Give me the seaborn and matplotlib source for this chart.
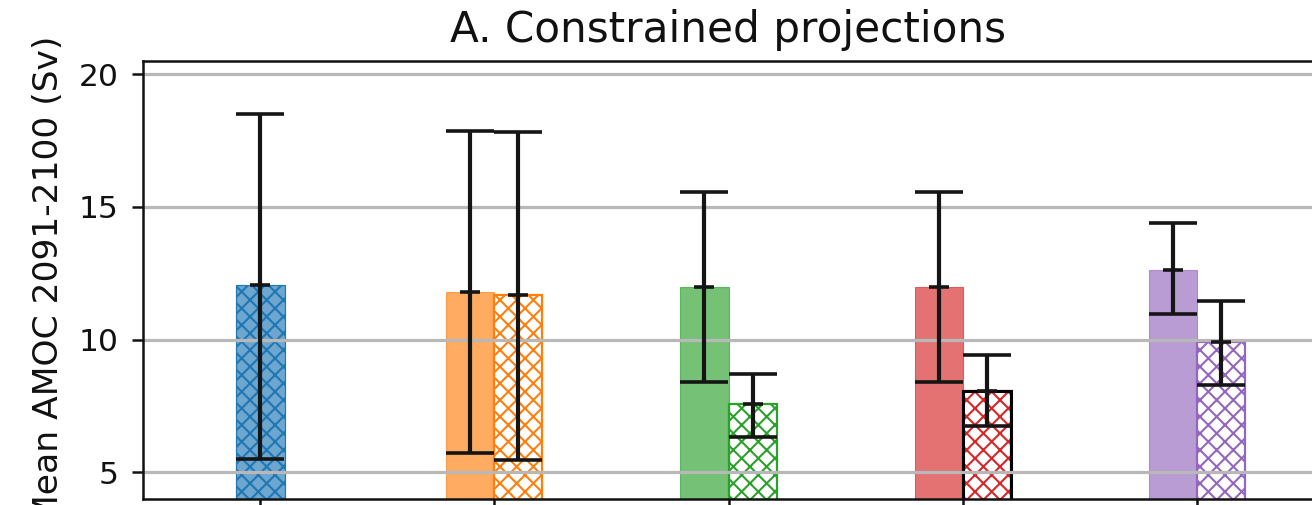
import matplotlib
matplotlib.use("Agg")
import matplotlib.pyplot as plt
import pandas as pd
import seaborn as sns
from matplotlib.colors import to_rgba

# scenario keys (their tick labels are cropped out of the reference)
scenarios = ["historical", "ssp126", "ssp245", "ssp370", "ssp585"]
kinds = ["all", "constrained"]
colors = ["#1f77b4", "#ff7f0e", "#2ca02c", "#d62728", "#9467bd"]

# full ensemble (solid bars): mean with low / high range
all_mean = [12.05, 11.80, 11.97, 11.99, 12.63]
all_low = [5.50, 5.72, 8.42, 8.42, 10.96]
all_high = [18.50, 17.87, 15.55, 15.55, 14.38]

# constrained ensemble (hatched bars), none for the first scenario
con_mean = [11.68, 7.56, 8.08, 9.90]
con_low = [5.48, 6.35, 6.76, 8.30]
con_high = [17.84, 8.70, 9.42, 11.47]

yticks = [5, 10, 15, 20]

sns.set_theme(style="ticks")
plt.rcParams.update({
    "font.family": ["DejaVu Sans"],
    "text.color": "#111111",
    "axes.labelcolor": "#111111",
    "hatch.linewidth": 1.5,
    "axes.axisbelow": "line",
    "axes.edgecolor": "#111111",
    "axes.linewidth": 1.8,
    "xtick.major.size": 8,
    "ytick.major.size": 8,
    "xtick.major.width": 1.8,
    "ytick.major.width": 1.8,
    "xtick.color": "#111111",
    "ytick.color": "#111111",
})

hist = pd.DataFrame({
    "scenario": [scenarios[0]] * 2,
    "kind": kinds,
    "mean": [all_mean[0]] * 2,
})
pairs = pd.DataFrame({
    "scenario": scenarios[1:] * 2,
    "kind": ["all"] * 4 + ["constrained"] * 4,
    "mean": all_mean[1:] + con_mean,
    "low": all_low[1:] + con_low,
    "high": all_high[1:] + con_high,
})

fig = plt.figure(figsize=(13.12, 5.05), dpi=100)
ax = fig.add_axes([143 / 1312, 6 / 505, 1171 / 1312, 438 / 505])

sns.barplot(data=hist, x="scenario", y="mean", hue="kind", order=scenarios,
            hue_order=kinds, dodge=False, width=0.21, errorbar=None,
            legend=False, ax=ax)
sns.barplot(data=pairs, x="scenario", y="mean", hue="kind", order=scenarios,
            hue_order=kinds, dodge=True, width=0.41, errorbar=None,
            legend=False, ax=ax)

# restyle bars: solid = translucent fill, constrained = hatched outline
centers = {}
for cont, kind in zip(ax.containers, kinds * 2):
    for p in cont.patches:
        xc = p.get_x() + p.get_width() / 2
        i = int(round(xc))
        col = colors[i]
        if kind == "all":
            p.set_facecolor(to_rgba(col, 0.65))
            p.set_edgecolor(to_rgba(col, 0.65))
            p.set_linewidth(0.8)
        else:
            p.set_facecolor("none")
            p.set_edgecolor(col)
            p.set_hatch("xx")
            p.set_linewidth(1.6 if i else 0.8)
            if i == 3:
                outline = plt.Rectangle((p.get_x(), p.get_y()), p.get_width(),
                                        p.get_height(), fill=False,
                                        edgecolor="black", linewidth=2.2,
                                        zorder=p.get_zorder())
                ax.add_patch(outline)
        centers[(i, kind)] = xc

# range bars with a short mark at the mean
err_kw = dict(fmt="_", color="#151515", ms=15, mew=2.6, elinewidth=3,
              capsize=17, capthick=2.6, zorder=5)
ax.errorbar(centers[(0, "all")], all_mean[0],
            yerr=[[all_mean[0] - all_low[0]], [all_high[0] - all_mean[0]]],
            **err_kw)
for _, r in pairs.iterrows():
    i = scenarios.index(r["scenario"])
    ax.errorbar(centers[(i, r["kind"])], r["mean"],
                yerr=[[r["mean"] - r["low"]], [r["high"] - r["mean"]]],
                **err_kw)

ax.set_xlim(-0.5, 4.5)
ax.set_ylim(4.0, 20.5)
ax.set_yticks(yticks)
ax.grid(axis="y", color="#b8b8b8", linewidth=2.3)
ax.grid(axis="x", visible=False)
ax.tick_params(axis="x", labelbottom=False)
ax.tick_params(axis="y", labelsize=22.6, pad=9.5)
ax.set_xlabel("")
ax.set_ylabel("Mean AMOC 2091-2100 (Sv)", fontsize=24.8, labelpad=10)
ax.set_title("A. Constrained projections", fontsize=30.3, pad=13.5)
for s in ax.spines.values():
    s.set_visible(True)

fig.savefig("out.png", dpi=100)
